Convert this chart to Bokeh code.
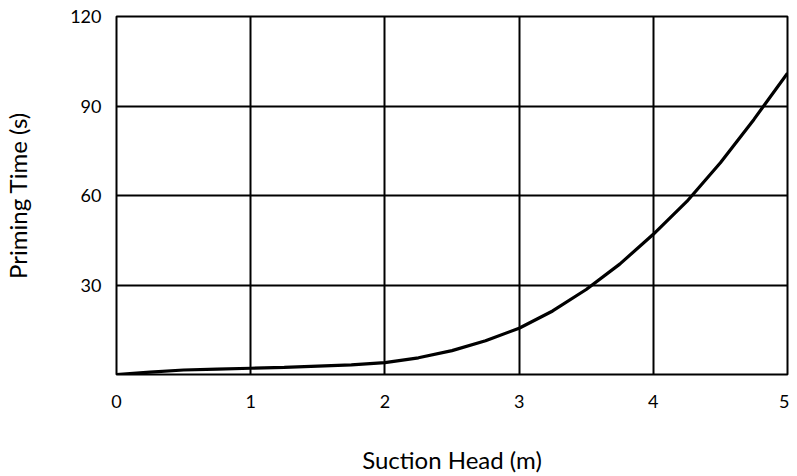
from bokeh.plotting import figure
from bokeh.models import Range1d, FixedTicker
from bokeh.embed import file_html
from bokeh.resources import INLINE

suction_head = [0, 0.25, 0.5, 0.75, 1.0, 1.25, 1.5, 1.75, 2.0, 2.25, 2.5, 2.75,
                3.0, 3.25, 3.5, 3.75, 4.0, 4.25, 4.5, 4.75, 5.0]
priming_time = [0, 0.8, 1.5, 1.8, 2.1, 2.4, 2.8, 3.2, 4.0, 5.6, 8.0, 11.3,
                15.5, 21.3, 28.5, 37.0, 47.0, 58.0, 71.0, 85.5, 101.0]
x_ticks = [0, 1, 2, 3, 4, 5]
y_ticks = [30, 60, 90, 120]

FONT = "Lato"

p = figure(width=789, height=476, output_backend="svg", toolbar_location=None,
           x_range=Range1d(0, 5), y_range=Range1d(0, 120),
           min_border_left=116, min_border_right=2, min_border_top=16,
           min_border_bottom=102)

p.line(suction_head, priming_time, line_color="black", line_width=3.2)

p.outline_line_color = "black"
p.outline_line_width = 2
p.background_fill_color = "white"
p.border_fill_color = "white"

for g in (p.xgrid, p.ygrid):
    g.grid_line_color = "black"
    g.grid_line_width = 2
p.xgrid.ticker = FixedTicker(ticks=x_ticks)
p.ygrid.ticker = FixedTicker(ticks=y_ticks)

p.xaxis.ticker = FixedTicker(ticks=x_ticks)
p.yaxis.ticker = FixedTicker(ticks=y_ticks)

for ax in (p.xaxis[0], p.yaxis[0]):
    ax.axis_line_color = None
    ax.major_tick_line_color = None
    ax.minor_tick_line_color = None
    ax.major_tick_out = 0
    ax.major_tick_in = 0
    ax.minor_tick_out = 0
    ax.minor_tick_in = 0
    ax.major_label_text_font = FONT
    ax.major_label_text_font_size = "18px"
    ax.major_label_text_color = "black"
    ax.axis_label_text_font = FONT
    ax.axis_label_text_font_size = "24px"
    ax.axis_label_text_font_style = "normal"
    ax.axis_label_text_color = "black"

p.xaxis.axis_label = "Suction Head (m)"
p.yaxis.axis_label = "Priming Time (s)"
p.xaxis.major_label_standoff = 20
p.xaxis.axis_label_standoff = 34
p.yaxis.major_label_standoff = 15
p.yaxis.axis_label_standoff = 35

open("out.html", "w").write(file_html(p, INLINE))
